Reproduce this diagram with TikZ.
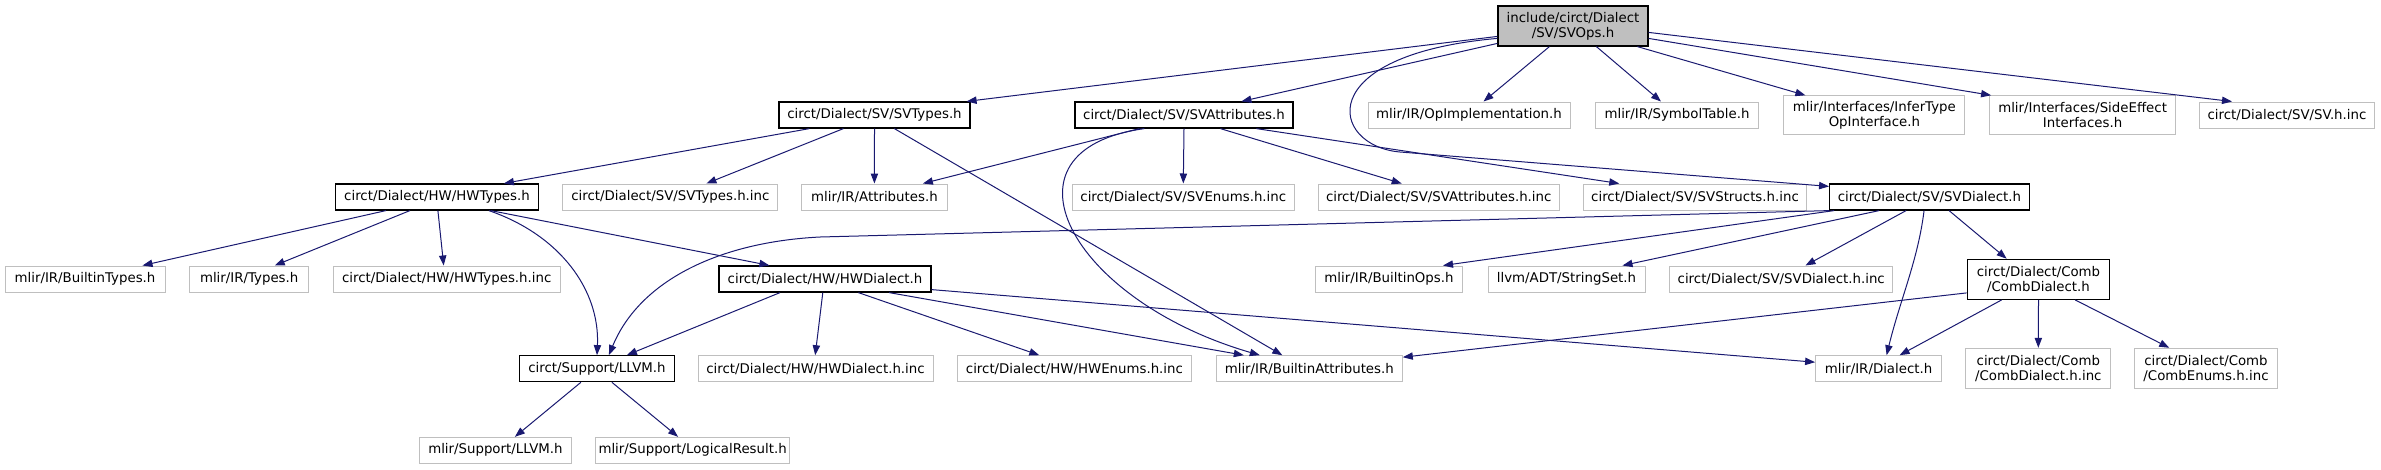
\documentclass[tikz,border=0pt]{standalone}
\usepackage{fontspec}
\setmainfont{DejaVu Sans}
\usetikzlibrary{arrows.meta,calc}
\definecolor{edgec}{HTML}{191970}
\definecolor{greyb}{HTML}{BFBFBF}
\begin{document}
\begin{tikzpicture}[x=0.75pt,y=-0.75pt,
 nb/.style={draw=greyb, line width=0.75pt, fill=white, inner sep=0pt, align=center, font=\fontsize{10pt}{11.25pt}\selectfont},
 db/.style={nb, draw=black, line width=0.9pt},
 root/.style={db, fill=greyb},
 sz/.style 2 args={minimum width={#1*0.75pt}, minimum height={#2*0.75pt}},
 e/.style={draw=edgec, line width=0.75pt, -{Triangle[length=7.5pt,width=5.5pt]}}
]
\useasboundingbox (0,0) rectangle (2381,469);
% row 0
\node[root, sz={150}{40}] (svops) at (1573,26) {include/circt/Dialect\\/SV/SVOps.h};
% row 1
\node[db, sz={191}{26}] (svtypes) at (874.5,115) {circt/Dialect/SV/SVTypes.h};
\node[db, sz={218}{26}] (svattr) at (1184,115) {circt/Dialect/SV/SVAttributes.h};
\node[nb, sz={202}{26}] (opimpl) at (1469,115) {mlir/IR/OpImplementation.h};
\node[nb, sz={163}{26}] (symtab) at (1677,115) {mlir/IR/SymbolTable.h};
\node[nb, sz={181}{39}] (infer) at (1874.4,115.3) {mlir/Interfaces/InferType\\OpInterface.h};
\node[nb, sz={186}{39}] (sideeff) at (2082.6,115.3) {mlir/Interfaces/SideEffect\\Interfaces.h};
\node[nb, sz={175}{26}] (svhinc) at (2287,115) {circt/Dialect/SV/SV.h.inc};
% row 2
\node[db, sz={203}{26}] (hwtypes) at (437,197) {circt/Dialect/HW/HWTypes.h};
\node[nb, sz={215}{26}] (svtypesinc) at (670.4,197) {circt/Dialect/SV/SVTypes.h.inc};
\node[nb, sz={146}{26}] (attrs) at (874.4,197) {mlir/IR/Attributes.h};
\node[nb, sz={222}{26}] (svenums) at (1183.3,197) {circt/Dialect/SV/SVEnums.h.inc};
\node[nb, sz={241}{26}] (svattrinc) at (1438.7,197) {circt/Dialect/SV/SVAttributes.h.inc};
\node[nb, sz={222.5}{26}] (svstructs) at (1695,197) {circt/Dialect/SV/SVStructs.h.inc};
\node[db, sz={199.5}{26}] (svdialect) at (1929.4,197) {circt/Dialect/SV/SVDialect.h};
% row 3
\node[nb, sz={160}{26}] (builtintypes) at (85,279) {mlir/IR/BuiltinTypes.h};
\node[nb, sz={119}{26}] (types) at (249.2,279) {mlir/IR/Types.h};
\node[nb, sz={227}{26}] (hwtypesinc) at (446.7,279) {circt/Dialect/HW/HWTypes.h.inc};
\node[db, sz={212}{26}] (hwdialect) at (825,279) {circt/Dialect/HW/HWDialect.h};
\node[nb, sz={147}{26}] (builtinops) at (1389,279) {mlir/IR/BuiltinOps.h};
\node[nb, sz={157}{26}] (stringset) at (1566.5,279) {llvm/ADT/StringSet.h};
\node[nb, sz={222.5}{26}] (svdialectinc) at (1781.2,279) {circt/Dialect/SV/SVDialect.h.inc};
\node[db, sz={142.5}{40}] (combdialect) at (2038.5,279.3) {circt/Dialect/Comb\\/CombDialect.h};
% row 4
\node[db, sz={155}{26}] (llvm) at (597,368.7) {circt/Support/LLVM.h};
\node[nb, sz={235}{26}] (hwdialectinc) at (815.5,368.7) {circt/Dialect/HW/HWDialect.h.inc};
\node[nb, sz={234}{26}] (hwenums) at (1074.4,368.7) {circt/Dialect/HW/HWEnums.h.inc};
\node[nb, sz={186}{26}] (builtinattrs) at (1309.3,368.7) {mlir/IR/BuiltinAttributes.h};
\node[nb, sz={126}{26}] (dialect) at (1878.6,368.7) {mlir/IR/Dialect.h};
\node[nb, sz={145}{40}] (combdialectinc) at (2038.3,368.3) {circt/Dialect/Comb\\/CombDialect.h.inc};
\node[nb, sz={142.5}{40}] (combenums) at (2206,368.3) {circt/Dialect/Comb\\/CombEnums.h.inc};
% row 5
\node[nb, sz={152}{26}] (mlirllvm) at (495.4,450.3) {mlir/Support/LLVM.h};
\node[nb, sz={194}{26}] (logical) at (692.6,450.3) {mlir/Support/LogicalResult.h};

% edges from SVOps
\draw[e] ($(svops.north west)+(0,31)$) -- ($(svtypes.north east)+(-4,0)$);
\draw[e] ($(svops.north west)+(0,38)$) -- ($(svattr.north west)+(167,0)$);
\draw[e] ($(svops.north west)+(0,33)$) .. controls (1310,55) and (1330,146) .. (1400,152) -- ($(svdialect.north west)+(0,3)$);
\draw[e] ($(svops.south west)+(52,0)$) -- ($(opimpl.north west)+(116,0)$);
\draw[e] ($(svops.south west)+(99,0)$) -- ($(symtab.north west)+(66,0)$);
\draw[e] ($(svops.south west)+(140,0)$) -- ($(infer.north west)+(22,0)$);
\draw[e] ($(svops.north east)+(0,33)$) -- ($(sideeff.north west)+(2,0)$);
\draw[e] ($(svops.north east)+(0,27)$) -- ($(svhinc.north west)+(33,0)$);
% SVTypes
\draw[e] ($(svtypes.south west)+(31,0)$) -- ($(hwtypes.north west)+(169,0)$);
\draw[e] ($(svtypes.south west)+(65,0)$) -- ($(svtypesinc.north west)+(144,0)$);
\draw[e] (svtypes.south) -- (attrs.north);
\draw[e] ($(svtypes.south west)+(116,0)$) -- ($(builtinattrs.north west)+(66.5,0)$);
% SVAttributes
\draw[e] ($(svattr.south west)+(65,0)$) -- ($(attrs.north west)+(122,0)$);
\draw[e] ($(svattr.south west)+(70,0)$) .. controls (990,150) and (1070,300) .. ($(builtinattrs.north west)+(44,0)$);
\draw[e] (svattr.south) -- (svenums.north);
\draw[e] ($(svattr.south west)+(146,0)$) -- ($(svattrinc.north west)+(84,0)$);
\draw[e] ($(svattr.south west)+(182,0)$) -- ($(svstructs.north west)+(36,0)$);
% SVDialect
\draw[e] (svdialect.south west) -- (820,237) .. controls (720,242) and (640,280) .. ($(llvm.north west)+(90,0)$);
\draw[e] ($(svdialect.south west)+(5,0)$) -- ($(builtinops.north west)+(128,0)$);
\draw[e] ($(svdialect.south west)+(50,0)$) -- ($(stringset.north west)+(135,0)$);
\draw[e] ($(svdialect.south west)+(77,0)$) -- ($(svdialectinc.north west)+(136,0)$);
\draw[e] ($(svdialect.south west)+(95,0)$) .. controls (1918,260) and (1900,300) .. ($(dialect.north west)+(71.5,0)$);
\draw[e] ($(svdialect.south west)+(120,0)$) -- ($(combdialect.north west)+(40,0)$);
% CombDialect
\draw[e] ($(combdialect.south west)+(0,-7)$) -- ($(builtinattrs.north east)+(0,2)$);
\draw[e] ($(combdialect.south west)+(35,0)$) -- ($(dialect.north west)+(84.5,0)$);
\draw[e] (combdialect.south) -- (combdialectinc.north);
\draw[e] ($(combdialect.south west)+(108.5,0)$) -- ($(combenums.north west)+(35,0)$);
% HWTypes
\draw[e] ($(hwtypes.south west)+(51,0)$) -- ($(builtintypes.north west)+(138,0)$);
\draw[e] ($(hwtypes.south west)+(75,0)$) -- ($(types.north west)+(85.5,0)$);
\draw[e] ($(hwtypes.south west)+(103,0)$) -- ($(hwtypesinc.north west)+(111,0)$);
\draw[e] ($(hwtypes.south west)+(154,0)$) .. controls (560,235) and (600,290) .. (llvm.north);
\draw[e] ($(hwtypes.south west)+(156,0)$) -- ($(hwdialect.north west)+(51,0)$);
% HWDialect
\draw[e] ($(hwdialect.south west)+(61.6,0)$) -- ($(llvm.north west)+(108,0)$);
\draw[e] ($(hwdialect.south west)+(104.4,0)$) -- ($(hwdialectinc.north west)+(117.7,0)$);
\draw[e] ($(hwdialect.south west)+(140,0)$) -- ($(hwenums.north west)+(82.4,0)$);
\draw[e] ($(hwdialect.south west)+(170.7,0)$) -- ($(builtinattrs.north west)+(28,0)$);
\draw[e] ($(hwdialect.south east)+(0,-3)$) -- ($(dialect.north west)+(0,7)$);
% LLVM
\draw[e] ($(llvm.south west)+(62,0)$) -- ($(mlirllvm.north west)+(96,0)$);
\draw[e] ($(llvm.south west)+(93,0)$) -- ($(logical.north west)+(83,0)$);
\end{tikzpicture}
\end{document}
